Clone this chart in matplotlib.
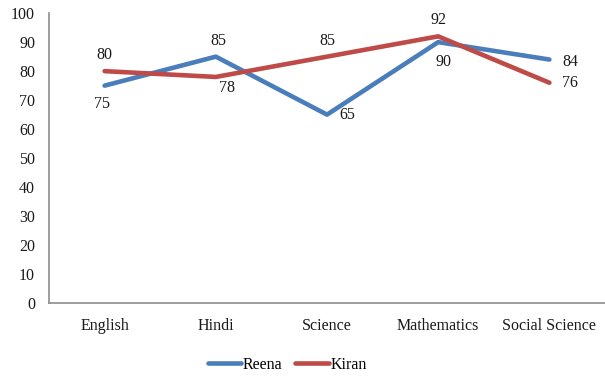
import matplotlib
matplotlib.use("Agg")
import matplotlib.pyplot as plt

subjects = ["English", "Hindi", "Science", "Mathematics", "Social Science"]
reena = [75, 85, 65, 90, 84]
kiran = [80, 78, 85, 92, 76]

# label placement per point: (dx, dy, ha, va) in pixels
reena_pos = [(-3, -10, "center", "top"), (3, 8, "center", "bottom"),
             (12, 0, "left", "center"), (5, -12, "center", "top"),
             (13, -2, "left", "center")]
kiran_pos = [(0, 8, "center", "bottom"), (11, -3, "center", "top"),
             (0, 8, "center", "bottom"), (0, 8, "center", "bottom"),
             (13, 0, "left", "center")]

plt.rcParams["font.family"] = ["Liberation Serif", "DejaVu Serif"]
FS = 11.5

fig = plt.figure(figsize=(6.05, 3.76), dpi=100)
ax = fig.add_axes([0.081, 0.194, 0.919, 0.771])

x = range(len(subjects))
blue, red = "#4a7ebb", "#be4b48"
ax.plot(x, reena, color=blue, lw=3.3, solid_capstyle="round", label="Reena")
ax.plot(x, kiran, color=red, lw=3.3, solid_capstyle="round", label="Kiran")

for vals, pos in ((reena, reena_pos), (kiran, kiran_pos)):
    for i, (v, (dx, dy, ha, va)) in enumerate(zip(vals, pos)):
        ax.annotate(str(v), (i, v), xytext=(dx, dy), textcoords="offset pixels",
                    ha=ha, va=va, fontsize=FS, color="#1a1a1a")

ax.set_xlim(-0.5, 4.5)
ax.set_ylim(0, 100)
ax.set_yticks(range(0, 101, 10))
ax.set_xticks(list(x))
ax.set_xticklabels(subjects)
ax.tick_params(length=0, labelsize=FS, colors="#1a1a1a")
ax.tick_params(axis="x", pad=11)
ax.tick_params(axis="y", pad=10)
for s in ("top", "right"):
    ax.spines[s].set_visible(False)
for s in ("left", "bottom"):
    ax.spines[s].set_color("#8c8c8c")
    ax.spines[s].set_linewidth(1.2)

fig.legend(loc="lower center", bbox_to_anchor=(0.475, -0.03), ncol=2, frameon=False,
           fontsize=FS, handlelength=2.1, handletextpad=0.1, columnspacing=0.8)

fig.savefig("out.png", dpi=100)
